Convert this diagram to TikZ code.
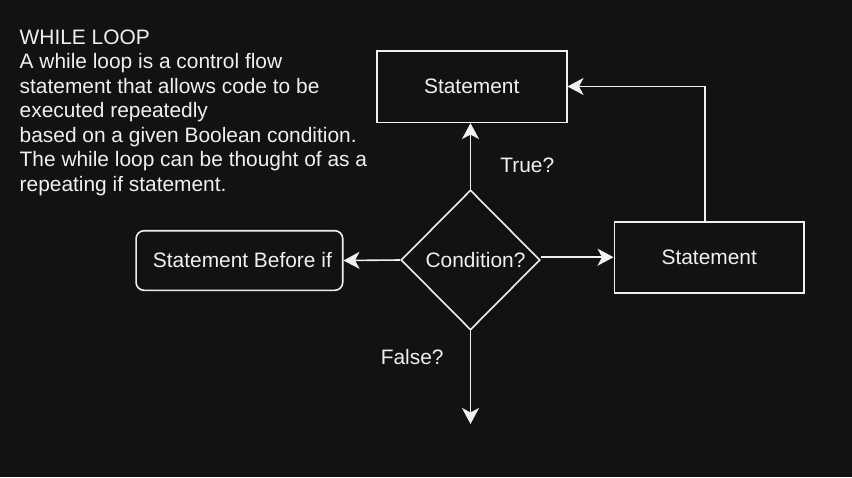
\documentclass[tikz,border=0pt]{standalone}
\usepackage{fontspec}
\setmainfont{Liberation Sans}
\usetikzlibrary{shapes.geometric,arrows.meta}
\definecolor{bg}{HTML}{121212}
\definecolor{fg}{HTML}{F0F0F0}
\tikzset{
  box/.style={draw=fg, line width=1.6pt, text=fg, inner sep=0pt, font=\fsz},
  cond/.style={box, diamond, aspect=1, minimum width=139pt, minimum height=140pt},
  arr/.style={draw=fg, line width=1.6pt, -{Stealth[length=16pt,width=17pt,inset=4.5pt]}},
  lbl/.style={text=fg, inner sep=0pt, font=\fsz},
}
\newcommand{\fsz}{\fontsize{20.9}{24.5}\selectfont}
\begin{document}
\begin{tikzpicture}[x=1pt,y=-1pt]
\fill[bg] (0,0) rectangle (852,477);
\useasboundingbox (0,0) rectangle (852,477);
\node[lbl, anchor=base west, align=left] (desc) at (19.5,191) {WHILE LOOP\\A while loop is a control flow\\statement that allows code to be\\executed repeatedly\\based on a given Boolean condition.\\The while loop can be thought of as a\\repeating if statement.};
\node[box, minimum width=190pt, minimum height=71.6pt] (s1) at (471.7,86.5) {Statement};
\node[box, minimum width=189.7pt, minimum height=71pt] (s2) at (709.2,257.2) {Statement};
\node[box, rounded corners=8pt, minimum width=206.7pt, minimum height=59.6pt] (sbi) at (239.4,260.5) {\hspace*{6pt}Statement Before if};
\node[cond] (c) at (470.5,260) {\hspace*{10pt}Condition?};
\coordinate (end) at (470.5,424);
\draw[arr] (c.north) -- (c.north |- s1.south);
\draw[arr] (c.west) -- (sbi.east);
\draw[arr] (c.east |- s2.west) -- (s2.west);
\draw[arr] (c.south) -- (end);
\draw[arr] ([xshift=-4pt]s2.north) |- (s1.east);
\node[lbl] (t) at (527.3,165) {True?};
\node[lbl] (f) at (412.2,356.7) {False?};
\end{tikzpicture}
\end{document}
